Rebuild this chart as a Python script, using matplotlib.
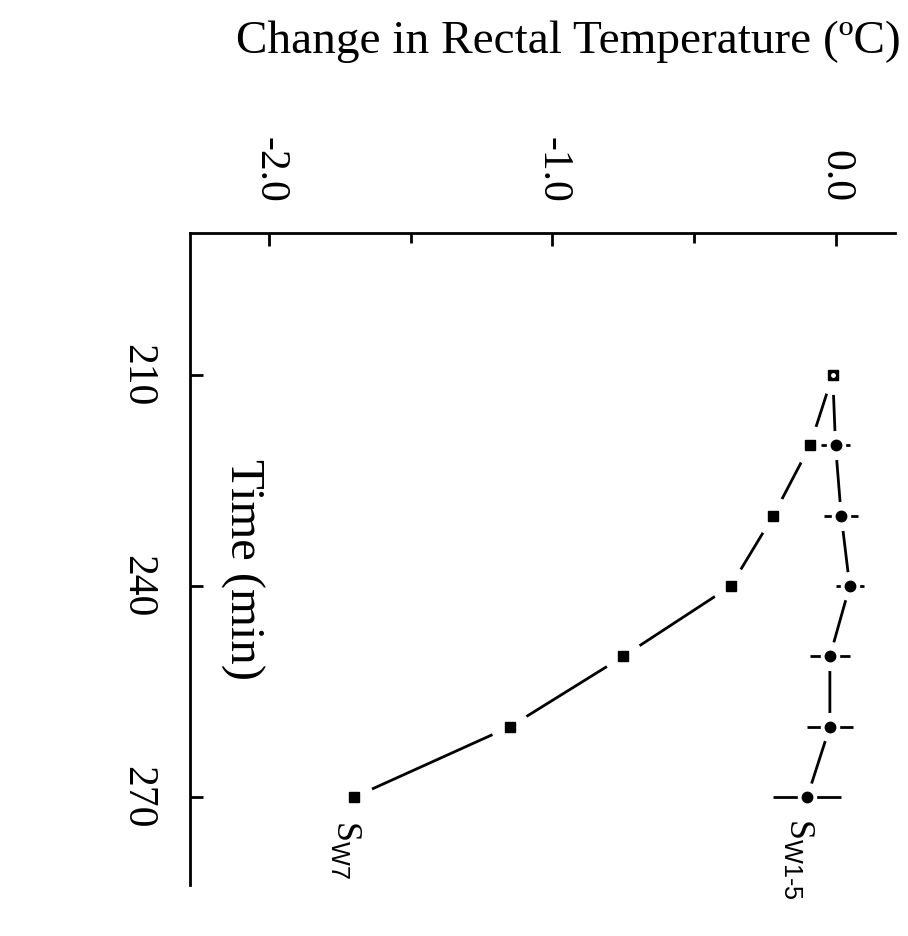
import numpy as np
import matplotlib.pyplot as plt

plt.rcParams['font.family'] = 'Liberation Serif'
plt.rcParams['mathtext.fontset'] = 'custom'
plt.rcParams['mathtext.rm'] = 'Liberation Sans'
plt.rcParams['mathtext.it'] = 'Liberation Sans'

# time points (min) and change in rectal temperature (deg C)
time_min = [210, 220, 230, 240, 250, 260, 270]
sw7 = [-0.01, -0.09, -0.22, -0.37, -0.75, -1.15, -1.70]
sw15 = [-0.01, 0.0, 0.02, 0.05, -0.02, -0.02, -0.10]
sw15_err = [0.0, 0.05, 0.06, 0.05, 0.07, 0.08, 0.12]

temp_ticks = [-2.0, -1.0, 0.0]
temp_minor = [-1.5, -0.5]
time_ticks = [210, 240, 270]

fig = plt.figure(figsize=(9.08, 9.36), dpi=100)
ax = fig.add_axes([190/908, 1 - 885/936, 705/908, 652/936])

# temperature runs across, time runs downwards
ax.plot(sw7, time_min, color='black', lw=2.0, zorder=1)
ax.plot(sw15, time_min, color='black', lw=2.0, zorder=1)

# white halos cut the joining lines short of each point
ax.plot(sw7, time_min, ls='none', marker='o', ms=27, mfc='white',
        mec='white', zorder=2)
ax.plot(sw15, time_min, ls='none', marker='o', ms=20, mfc='white',
        mec='white', zorder=2)

# error bars, with a smaller gap round the point
ax.errorbar(sw15[1:], time_min[1:], xerr=sw15_err[1:], fmt='none',
            ecolor='black', elinewidth=2.0, capsize=0, zorder=3)
ax.plot(sw15[1:], time_min[1:], ls='none', marker='o', ms=13, mfc='white',
        mec='white', zorder=4)

ax.plot(sw7, time_min, ls='none', marker='s', ms=6.5, color='black',
        zorder=5)
ax.plot(sw15[1:], time_min[1:], ls='none', marker='o', ms=7.5,
        color='black', zorder=5)
ax.plot(sw15[:1], time_min[:1], ls='none', marker='o', ms=2.5,
        color='white', zorder=6)

ax.set_xlim(-2.28, 0.21)
ax.set_ylim(282.5, 189.8)

ax.spines['right'].set_visible(False)
ax.spines['bottom'].set_visible(False)
ax.spines['top'].set_linewidth(2)
ax.spines['left'].set_linewidth(2)

ax.xaxis.tick_top()
ax.set_xticks(temp_ticks)
ax.set_xticks(temp_minor, minor=True)
ax.set_xticklabels(['%.1f' % t for t in temp_ticks], rotation=-90,
                   fontsize=30)
ax.set_yticks(time_ticks)
ax.set_yticklabels([str(t) for t in time_ticks], rotation=-90,
                   fontsize=30, va='center')
ax.tick_params(axis='x', which='major', direction='in', length=9, width=2,
               pad=22)
ax.tick_params(axis='x', which='minor', direction='in', length=7, width=2)
ax.tick_params(axis='y', direction='in', length=9, width=2, pad=24)

ax.text(-1.73, 273.2, r'S$_{\mathrm{W7}}$', rotation=-90, fontsize=26,
        ha='center', va='top')
ax.text(-0.13, 273.0, r'S$_{\mathrm{W1\text{-}5}}$', rotation=-90,
        fontsize=26, ha='center', va='top')

fig.text(568/908, 1 - 42/936, 'Change in Rectal Temperature (ºC)',
         fontsize=34, ha='center', va='center')
fig.text(242/908, 1 - 570/936, 'Time (min)', rotation=-90, fontsize=35,
         ha='center', va='center')

fig.savefig('out.png', dpi=100)
